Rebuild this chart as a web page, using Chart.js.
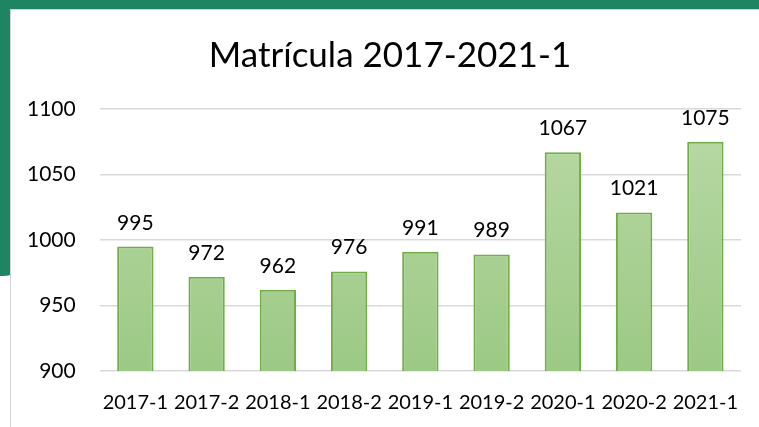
<!DOCTYPE html>
<html>
<head>
<meta charset="utf-8">
<script src="https://cdn.jsdelivr.net/npm/chart.js@4"></script>
<style>
  html, body { margin: 0; padding: 0; width: 759px; height: 427px; overflow: hidden; background: #fff; }
  #topband { position: absolute; left: 0; top: 0; width: 759px; height: 10px; background: #1e8462; }
  #leftband { position: absolute; left: 0; top: 0; width: 26px; height: 276px; background: #1e8462; border-bottom-right-radius: 22px; }
  #card { position: absolute; left: 10px; top: 9px; width: 780px; height: 440px; background: #fff; border: 1px solid #d4d4d4; }
  #wrap { position: absolute; left: 0; top: 0; width: 759px; height: 427px; }
</style>
</head>
<body>
<div id="topband"></div>
<div id="leftband"></div>
<div id="card"></div>
<div id="wrap"><canvas id="matChart"></canvas></div>
<script>
const periods = ["2017-1", "2017-2", "2018-1", "2018-2", "2019-1", "2019-2", "2020-1", "2020-2", "2021-1"];
const enrolled = [995, 972, 962, 976, 991, 989, 1067, 1021, 1075];
const yTicks = [900, 950, 1000, 1050, 1100];

const FONT = "Lato, 'Open Sans', sans-serif";

// simple value labels above each bar
const valueLabels = {
  id: "valueLabels",
  afterDatasetsDraw(chart) {
    const ctx = chart.ctx;
    const meta = chart.getDatasetMeta(0);
    ctx.save();
    ctx.font = "21px " + FONT;
    ctx.fillStyle = "#000";
    ctx.textAlign = "center";
    ctx.textBaseline = "alphabetic";
    meta.data.forEach((bar, i) => {
      ctx.fillText(chart.data.datasets[0].data[i], bar.x, bar.y - 17);
    });
    ctx.restore();
  }
};

// nudge the title a bit right, like the original
const titleShift = {
  id: "titleShift",
  afterLayout(chart) {
    const t = chart.titleBlock;
    if (t) { t.left += 36; t.width -= 36; }
  }
};

function barFill(context) {
  const chart = context.chart;
  const area = chart.chartArea;
  if (!area) return "#a9d18e";
  const g = chart.ctx.createLinearGradient(0, area.top, 0, area.bottom);
  g.addColorStop(0, "#b9d9a6");
  g.addColorStop(1, "#9cc985");
  return g;
}

const ctx = document.getElementById("matChart").getContext("2d");
new Chart(ctx, {
  type: "bar",
  data: {
    labels: periods,
    datasets: [{
      data: enrolled,
      backgroundColor: barFill,
      borderColor: "#70ad47",
      borderWidth: 2,
      barPercentage: 0.51,
      categoryPercentage: 1
    }]
  },
  options: {
    responsive: true,
    maintainAspectRatio: false,
    animation: false,
    layout: { padding: { left: 3, right: 18, top: 35, bottom: 0 } },
    plugins: {
      legend: { display: false },
      tooltip: { enabled: false },
      title: {
        display: true,
        text: "Matrícula 2017-2021-1",
        color: "#000",
        font: { family: FONT, size: 35, weight: "normal" },
        padding: { top: 0, bottom: 32 }
      }
    },
    scales: {
      x: {
        grid: { display: false },
        border: { display: false },
        ticks: { color: "#000", font: { family: FONT, size: 20 }, padding: 12, maxRotation: 0, autoSkip: false }
      },
      y: {
        min: 900,
        max: 1100,
        afterBuildTicks(scale) { scale.ticks = yTicks.map(v => ({ value: v })); },
        grid: { color: "#d9d9d9", lineWidth: 1.5, drawTicks: false },
        border: { display: false },
        ticks: { color: "#000", font: { family: FONT, size: 21 }, padding: 24, callback: v => String(v) }
      }
    }
  },
  plugins: [valueLabels, titleShift]
});
</script>
</body>
</html>
